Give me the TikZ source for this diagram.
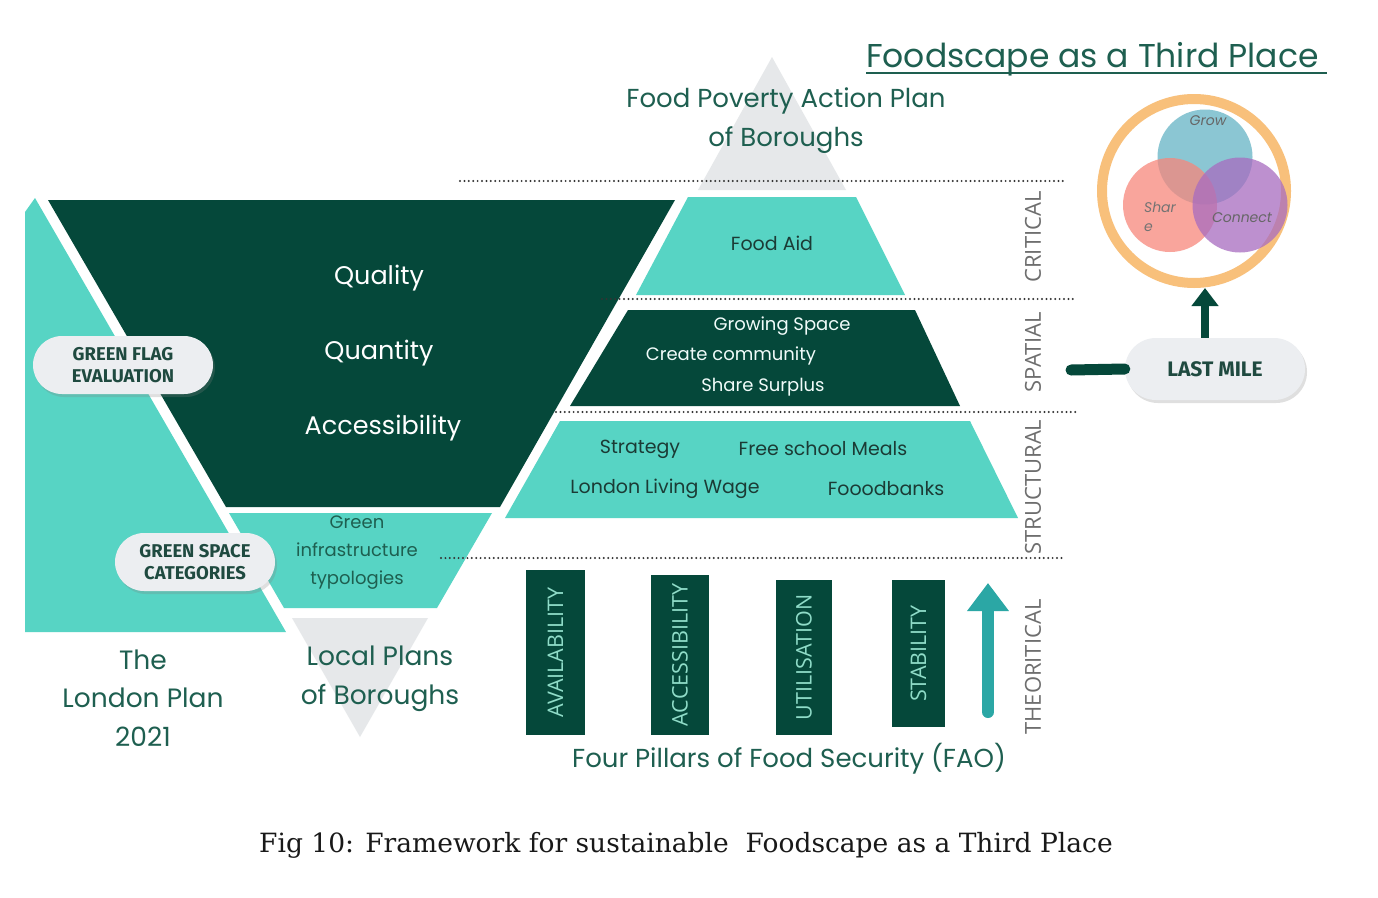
\documentclass[tikz,border=0pt]{standalone}
\usepackage{fontspec}
\setmainfont{Poppins}
\newfontfamily\pillfont{Fira Sans}
\newfontfamily\thinfont{Open Sans}
\newfontfamily\capfont{DejaVu Serif}
\usetikzlibrary{arrows.meta,shadows}
\definecolor{teal1}{HTML}{57D4C4}
\definecolor{dkgreen}{HTML}{05483A}
\definecolor{txtgreen}{HTML}{1E5F50}
\definecolor{txtdark}{HTML}{1B3B35}
\definecolor{lgray}{HTML}{E6E8EA}
\definecolor{pillgray}{HTML}{ECEEF1}
\definecolor{pilltxt}{HTML}{1F4A40}
\definecolor{mint}{HTML}{8FDCC8}
\definecolor{lblgray}{HTML}{6E6E6E}
\definecolor{arrteal}{HTML}{2BA7A5}
\definecolor{ring}{HTML}{F7B564}
\definecolor{cgrow}{HTML}{6FB8C8}
\definecolor{cshare}{HTML}{F7877C}
\definecolor{cconn}{HTML}{A86CC0}
\tikzset{
  bigtxt/.style={font=\fontsize{26}{31}\selectfont, text=txtgreen, align=center},
  whitetxt/.style={font=\fontsize{25.5}{30}\selectfont, text=white},
  midtxt/.style={font=\fontsize{19}{23}\selectfont, text=txtdark},
  spattxt/.style={font=\fontsize{18}{22}\selectfont, text=white!92!teal1},
  pill/.style={fill=pillgray, rounded corners=29pt, minimum height=58pt, align=center,
     font=\pillfont\bfseries\fontsize{18.5}{21.5}\selectfont, text=pilltxt,
     drop shadow={opacity=0.25, shadow xshift=2pt, shadow yshift=-3pt}},
  pillar/.style={fill=dkgreen, rotate=90, font=\thinfont\fontsize{21.5}{24}\selectfont, text=mint, inner sep=0pt},
  sidelbl/.style={rotate=90, font=\thinfont\fontsize{22}{25}\selectfont, text=lblgray},
  dotline/.style={line width=2.2pt, dash pattern=on 0pt off 4.4pt, line cap=round, black!80},
}
\begin{document}
\begin{tikzpicture}[x=1pt,y=-1pt]
\useasboundingbox (0,0) rectangle (1378,897);
\fill[white] (0,0) rectangle (1378,897);

% ---------- left inverted pyramid ----------
\fill[teal1] (25,212) -- (35,198) -- (286,632) -- (25,632) -- cycle;
\fill[dkgreen] (48,200) -- (675,200) -- (500,507) -- (226,507) -- cycle;
\fill[teal1] (229,513) -- (492,513) -- (437,608) -- (284,608) -- cycle;
\fill[lgray] (292,618) -- (428,618) -- (360,737) -- cycle;

\node[whitetxt] (quality) at (379,278) {Quality};
\node[whitetxt] (quantity) at (379,353) {Quantity};
\node[whitetxt] (access) at (383,428) {Accessibility};
\node[font=\fontsize{18}{28}\selectfont, text=txtgreen, align=center] (gi) at (357,553) {Green\\infrastructure\\typologies};

\node[pill, minimum width=180pt] (gflag) at (123,365) {GREEN FLAG\\EVALUATION};
\node[pill, minimum width=160pt] (gspace) at (195,562) {GREEN SPACE\\CATEGORIES};

\node[bigtxt, font=\fontsize{26.5}{38.5}\selectfont] (london) at (143,698) {The\\London Plan\\2021};
\node[bigtxt, font=\fontsize{26.5}{38.5}\selectfont] (local) at (380,679) {Local Plans\\of Boroughs};

% ---------- right pyramid ----------
\fill[lgray] (772,57) -- (846,190) -- (698,190) -- cycle;
\node[bigtxt, font=\fontsize{26}{39}\selectfont] (fpap) at (786,121) {Food Poverty Action Plan\\of Boroughs};

\fill[teal1] (688,197) -- (856,197) -- (905,295) -- (636,295) -- cycle;
\fill[dkgreen] (628,310) -- (915,310) -- (960,406) -- (570,406) -- cycle;
\fill[teal1] (560,421) -- (970,421) -- (1018,518) -- (505,518) -- cycle;

\node[midtxt] (aid) at (772,243) {Food Aid};
\node[spattxt] (grow) at (782,326) {Growing Space};
\node[spattxt] (comm) at (731,356) {Create community};
\node[spattxt] (surp) at (763,387) {Share Surplus};
\node[midtxt] (strat) at (640,449) {Strategy};
\node[midtxt] (fsm) at (823,449) {Free school Meals};
\node[midtxt] (llw) at (665,489) {London Living Wage};
\node[midtxt] (fb) at (886,489) {Fooodbanks};

% dotted lines
\coordinate (d1a) at (460,181); \coordinate (d1b) at (1065,181);
\coordinate (d2a) at (602,299); \coordinate (d2b) at (1075,299);
\coordinate (d3a) at (556,412); \coordinate (d3b) at (1078,412);
\coordinate (d4a) at (441,558); \coordinate (d4b) at (1065,558);
\draw[dotline] (d1a) -- (d1b);
\draw[dotline] (d2a) -- (d2b);
\draw[dotline] (d3a) -- (d3b);
\draw[dotline] (d4a) -- (d4b);

\node[sidelbl] (crit) at (1033,237) {CRITICAL};
\node[sidelbl] (spat) at (1033,352) {SPATIAL};
\node[sidelbl] (struct) at (1033,487) {STRUCTURAL};
\node[sidelbl] (theo) at (1033,667) {THEORITICAL};

% pillars
\node[pillar, minimum width=165pt, minimum height=59pt] (p1) at (555.5,652.5) {AVAILABILITY};
\node[pillar, minimum width=160pt, minimum height=58pt] (p2) at (680,655) {ACCESSIBILITY};
\node[pillar, minimum width=155pt, minimum height=56pt] (p3) at (804,657.5) {UTILISATION};
\node[pillar, minimum width=147pt, minimum height=53pt] (p4) at (918.5,653.5) {STABILITY};

\coordinate (tarr0) at (988,712);
\coordinate (tarr1) at (988,583);
\draw[arrteal, line width=12pt, line cap=round, -{Triangle[width=40pt,length=28pt]}] (tarr0) -- (tarr1);

\node[bigtxt, font=\fontsize{26}{31}\selectfont] (four) at (789,759) {Four Pillars of Food Security (FAO)};

% ---------- Foodscape as a third place ----------
\node[anchor=base west, font=\fontsize{33}{40}\selectfont, text=txtgreen, inner sep=0pt] (title) at (866,67) {Foodscape as a Third Place};
\draw[txtgreen, line width=2pt] ([yshift=-6pt]title.base west) -- ([yshift=-6pt,xshift=8pt]title.base east);

\node[circle, minimum size=184pt, draw=ring, draw opacity=0.85, line width=10pt] (ringc) at (1194,191) {};
\fill[cgrow, opacity=0.8] (1205,157) circle (47.5);
\fill[cshare, opacity=0.75] (1170,205) circle (47);
\fill[cconn, opacity=0.75] (1240,205) circle (47.5);
\node[font=\itshape\fontsize{14}{17}\selectfont, text=black!60] (tgrow) at (1208,121) {Grow};
\node[font=\itshape\fontsize{14}{19}\selectfont, text=black!55, align=left] (tshare) at (1160,217) {Shar\\e};
\node[font=\itshape\fontsize{14}{17}\selectfont, text=black!60] (tconn) at (1242,218) {Connect};

\node[pill, minimum width=180pt, minimum height=62pt, rounded corners=31pt, font=\pillfont\bfseries\fontsize{21}{24}\selectfont] (lastmile) at (1215,369) {LAST MILE};
\coordinate (lmstart) at (1071,370);
\draw[dkgreen, line width=11pt, line cap=round] (lmstart) -- (lastmile.west);
\draw[dkgreen, line width=8pt, -{Triangle[width=26pt,length=18pt]}] (lastmile.north -| 1205,0) -- (ringc.south -| 1205,0);

% caption
\node[font=\capfont\fontsize{26.5}{31}\selectfont, text=black!90] (caption) at (686,845) {Fig 10: Framework for sustainable\ \ Foodscape as a Third Place};
\end{tikzpicture}
\end{document}
